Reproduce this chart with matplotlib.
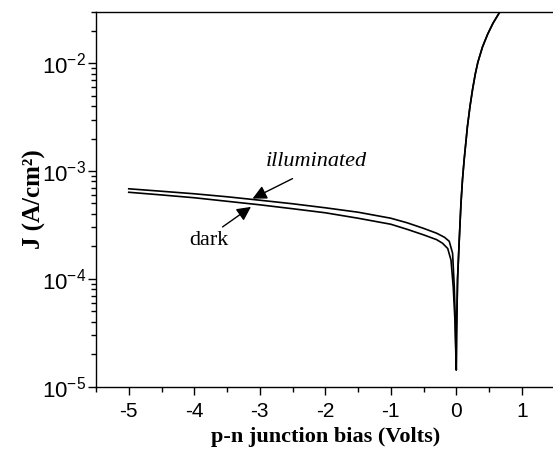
import numpy as np
import matplotlib
matplotlib.use("Agg")
import matplotlib.pyplot as plt

# values
v_illum = [-5, -4.5, -4, -3.5, -3, -2.5, -2, -1.5, -1, -0.75, -0.5, -0.3, -0.18,
           -0.107, -0.056, -0.03, -0.015, 0.0]
j_illum = [6.84e-4, 6.49e-4, 6.15e-4, 5.77e-4, 5.36e-4, 4.97e-4, 4.56e-4, 4.15e-4,
           3.65e-4, 3.31e-4, 2.94e-4, 2.65e-4, 2.43e-4, 2.23e-4, 1.73e-4, 8.4e-5,
           4.15e-5, 1.43e-5]

v_dark = [-5, -4.5, -4, -3.5, -3, -2.5, -2, -1.5, -1, -0.75, -0.5, -0.3, -0.21,
          -0.13, -0.08, -0.046, -0.02, 0.0]
j_dark = [6.35e-4, 6.00e-4, 5.65e-4, 5.24e-4, 4.86e-4, 4.47e-4, 4.10e-4, 3.65e-4,
          3.21e-4, 2.88e-4, 2.56e-4, 2.31e-4, 2.14e-4, 1.91e-4, 1.49e-4, 8.4e-5,
          4.15e-5, 1.43e-5]

# forward branch, the same for both curves
v_fwd = [0.005, 0.02, 0.046, 0.072, 0.095, 0.12, 0.17, 0.21, 0.25, 0.29, 0.33,
         0.40, 0.48, 0.56, 0.66, 0.70]
j_fwd = [3.2e-5, 1.0e-4, 2.3e-4, 5.0e-4, 8.3e-4, 1.26e-3, 2.57e-3, 3.98e-3, 5.75e-3,
         7.9e-3, 1.02e-2, 1.41e-2, 1.86e-2, 2.34e-2, 2.95e-2, 3.3e-2]

x_ticks = [-5, -4, -3, -2, -1, 0, 1]
x_tick_labels = ["-5", "-4", "-3", "-2", "-1", "0", "1"]

plt.rcParams["mathtext.fontset"] = "custom"
plt.rcParams["mathtext.rm"] = "Liberation Sans"
plt.rcParams["mathtext.it"] = "Liberation Sans:italic"
plt.rcParams["mathtext.bf"] = "Liberation Sans:bold"
plt.rcParams["font.family"] = "Liberation Sans"

fig = plt.figure(figsize=(5.53, 4.51), dpi=100)
ax = fig.add_axes([96 / 553, 64.3 / 451, 458.5 / 553, 375 / 451])

ax.plot(v_illum + v_fwd, j_illum + j_fwd, color="black", lw=1.2)
ax.plot(v_dark + v_fwd, j_dark + j_fwd, color="black", lw=1.2)

ax.set_yscale("log")
ax.set_xlim(-5.5, 1.5)
ax.set_ylim(1e-5, 3e-2)

ax.set_xticks(x_ticks)
ax.set_xticklabels(x_tick_labels, fontsize=15)
ax.set_xticks(np.arange(-5.5, 1.6, 1.0), minor=True)
ax.tick_params(axis="both", which="major", direction="out", length=6, width=1, pad=2)
ax.tick_params(axis="both", which="minor", direction="out", length=3.5, width=1)
ax.tick_params(axis="y", labelsize=16, pad=1)
ax.tick_params(axis="x", pad=5)

for side in ["left", "bottom", "top"]:
    ax.spines[side].set_linewidth(1.0)
ax.spines["right"].set_visible(False)

ax.set_xlabel("p-n junction bias (Volts)", fontfamily="Liberation Serif",
              fontweight="bold", fontsize=16, labelpad=4)
ax.set_ylabel("J (A/cm²)", fontfamily="Liberation Serif", fontweight="bold",
              fontsize=18, labelpad=-3)

arrow = dict(arrowstyle="-|>,head_length=0.6,head_width=0.3", color="black",
             lw=1.0, mutation_scale=14, shrinkA=0, shrinkB=0)
ax.annotate("", xy=(-3.11, 5.55e-4), xytext=(-2.50, 8.5e-4), arrowprops=arrow)
ax.annotate("", xy=(-3.134, 4.65e-4), xytext=(-3.568, 3.03e-4), arrowprops=arrow)
ax.text(-2.91, 1.23e-3, "illuminated", fontfamily="Liberation Serif", style="italic",
        fontsize=16, ha="left", va="center")
ax.text(-4.08, 2.26e-4, "dark", fontfamily="Liberation Serif", fontsize=16,
        ha="left", va="center")

fig.savefig("out.png", dpi=100)
